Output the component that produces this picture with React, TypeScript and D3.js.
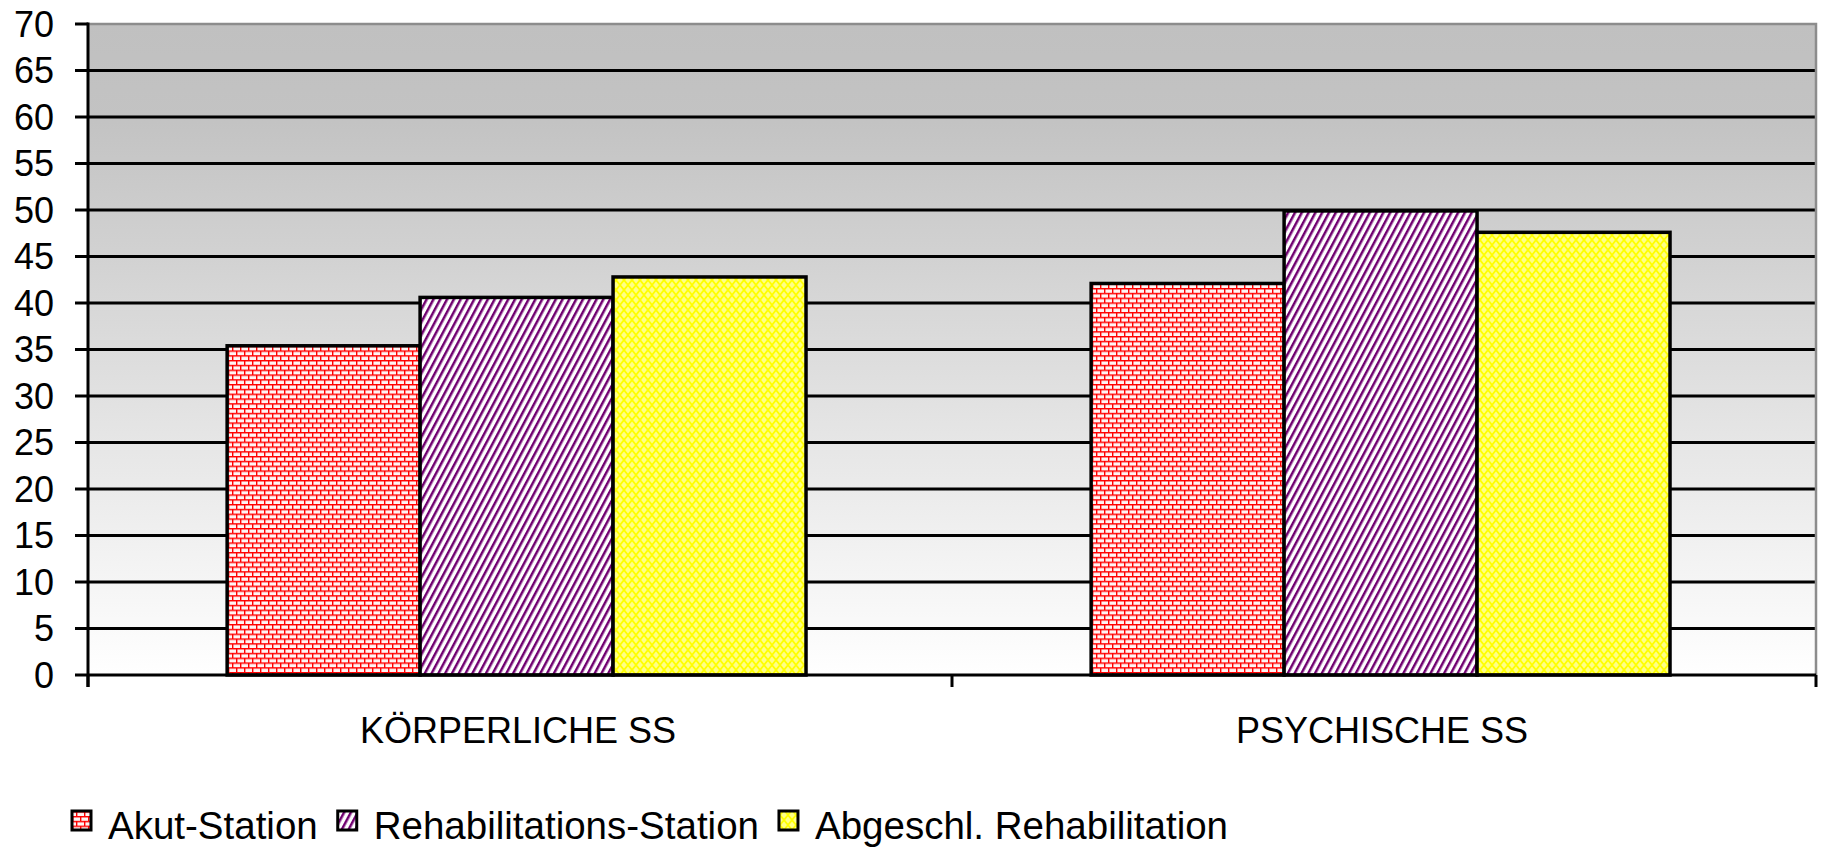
import React, { useEffect, useRef } from "react";
import * as d3 from "d3";

// chart data
const categories = ["KÖRPERLICHE SS", "PSYCHISCHE SS"];
const seriesNames = ["Akut-Station", "Rehabilitations-Station", "Abgeschl. Rehabilitation"];
const akutValues = [35.4, 42.1];
const rehaValues = [40.6, 49.9];
const abgeschlValues = [42.8, 47.6];
const yTicks = [0, 5, 10, 15, 20, 25, 30, 35, 40, 45, 50, 55, 60, 65, 70];

const seriesFill: Record<string, string> = {
  "Akut-Station": "url(#brick)",
  "Rehabilitations-Station": "url(#stripes)",
  "Abgeschl. Rehabilitation": "url(#trellis)",
};

const App = () => {
  const ref = useRef<SVGSVGElement>(null);

  useEffect(() => {
    const width = 1823;
    const height = 848;
    const left = 88;
    const right = 1816;
    const top = 24;
    const bottom = 675;
    const font = "'Liberation Sans', Arial, sans-serif";

    const svg = d3.select(ref.current);
    svg.selectAll("*").remove();

    const defs = svg.append("defs");

    // plot background: gray at the top fading to white
    const grad = defs.append("linearGradient")
      .attr("id", "bgGrad")
      .attr("x1", 0).attr("y1", 0).attr("x2", 0).attr("y2", 1);
    [[0, "#c0c0c0"], [0.15, "#c3c3c3"], [0.5, "#dcdcdc"], [1, "#ffffff"]].forEach(([o, c]) => {
      grad.append("stop").attr("offset", o as number).attr("stop-color", c as string);
    });

    // red bricks
    const brick = defs.append("pattern")
      .attr("id", "brick")
      .attr("patternUnits", "userSpaceOnUse")
      .attr("width", 8).attr("height", 9.6);
    brick.append("rect").attr("width", 8).attr("height", 9.6).attr("fill", "#fff4f4");
    brick.append("path")
      .attr("d", "M0,0.7H8M0,5.5H8M0.7,0.7V5.5M4.7,5.5V9.6")
      .attr("stroke", "#ff0000")
      .attr("stroke-width", 1.4)
      .attr("fill", "none");

    // purple upward diagonal
    const stripes = defs.append("pattern")
      .attr("id", "stripes")
      .attr("patternUnits", "userSpaceOnUse")
      .attr("width", 6).attr("height", 10)
      .attr("patternTransform", "rotate(28)");
    stripes.append("rect").attr("width", 6).attr("height", 10).attr("fill", "#ffffff");
    stripes.append("rect").attr("width", 2.5).attr("height", 10).attr("fill", "#700070");

    // yellow lattice
    const trellis = defs.append("pattern")
      .attr("id", "trellis")
      .attr("patternUnits", "userSpaceOnUse")
      .attr("width", 8).attr("height", 10);
    trellis.append("rect").attr("width", 8).attr("height", 10).attr("fill", "#ffff88");
    trellis.append("path")
      .attr("d", "M0,0L4,5L0,10M8,0L4,5L8,10")
      .attr("stroke", "#ffff00")
      .attr("stroke-width", 1.8)
      .attr("fill", "none");

    const y = d3.scaleLinear().domain([0, 70]).range([bottom, top]);
    const x0 = d3.scaleBand<string>()
      .domain(categories)
      .range([left, right])
      .paddingInner(0.33)
      .paddingOuter(0.165)
      .align(0.488);
    const x1 = d3.scaleBand<string>()
      .domain(seriesNames)
      .range([0, x0.bandwidth()]);

    svg.append("rect")
      .attr("x", left).attr("y", top)
      .attr("width", right - left).attr("height", bottom - top)
      .attr("fill", "url(#bgGrad)");

    // gridlines
    svg.append("g")
      .selectAll("line")
      .data(yTicks.filter(t => t > 0 && t < 70))
      .join("line")
      .attr("x1", left).attr("x2", right)
      .attr("y1", d => y(d)).attr("y2", d => y(d))
      .attr("stroke", "#000")
      .attr("stroke-width", 3);

    // plot border top / right
    svg.append("path")
      .attr("d", `M${left},${y(70)}H${right}V${bottom}`)
      .attr("stroke", "#8c8c8c")
      .attr("stroke-width", 2.5)
      .attr("fill", "none");

    const values = [akutValues, rehaValues, abgeschlValues];
    const barData = categories.flatMap((c, ci) =>
      seriesNames.map((s, si) => ({ cat: c, series: s, value: values[si][ci] }))
    );

    svg.append("g")
      .selectAll("rect")
      .data(barData)
      .join("rect")
      .attr("x", d => (x0(d.cat) || 0) + (x1(d.series) || 0))
      .attr("y", d => y(d.value))
      .attr("width", x1.bandwidth())
      .attr("height", d => y(0) - y(d.value))
      .attr("fill", d => seriesFill[d.series])
      .attr("stroke", "#000")
      .attr("stroke-width", 3.5);

    // y axis
    const yAxis = svg.append("g");
    yAxis.append("line")
      .attr("x1", left).attr("x2", left)
      .attr("y1", y(70) - 1.5).attr("y2", bottom + 12)
      .attr("stroke", "#000").attr("stroke-width", 3);
    yAxis.selectAll("line.tick")
      .data(yTicks)
      .join("line")
      .attr("class", "tick")
      .attr("x1", left - 13).attr("x2", left)
      .attr("y1", d => y(d)).attr("y2", d => y(d))
      .attr("stroke", "#000").attr("stroke-width", 3);
    yAxis.selectAll("text")
      .data(yTicks)
      .join("text")
      .attr("x", 54)
      .attr("y", d => y(d))
      .attr("dy", "0.36em")
      .attr("text-anchor", "end")
      .attr("font-family", font)
      .attr("font-size", 36)
      .attr("fill", "#000")
      .text(d => d);

    // x axis
    const xAxis = svg.append("g");
    xAxis.append("line")
      .attr("x1", left).attr("x2", right)
      .attr("y1", bottom).attr("y2", bottom)
      .attr("stroke", "#000").attr("stroke-width", 3);
    const step = (right - left) / categories.length;
    const boundaries = [left, left + step, right];
    xAxis.selectAll("line.tick")
      .data(boundaries)
      .join("line")
      .attr("class", "tick")
      .attr("x1", d => d).attr("x2", d => d)
      .attr("y1", bottom).attr("y2", bottom + 12)
      .attr("stroke", "#000").attr("stroke-width", 3);
    xAxis.selectAll("text")
      .data(categories)
      .join("text")
      .attr("x", (d, i) => left + step * (i + 0.5) - 2)
      .attr("y", 743)
      .attr("text-anchor", "middle")
      .attr("font-family", font)
      .attr("font-size", 36)
      .attr("fill", "#000")
      .text(d => d);

    // legend
    const legend = svg.append("g");
    let lx = 72;
    seriesNames.forEach(s => {
      legend.append("rect")
        .attr("x", lx).attr("y", 811)
        .attr("width", 19).attr("height", 19)
        .attr("fill", seriesFill[s])
        .attr("stroke", "#000")
        .attr("stroke-width", 3);
      const t = legend.append("text")
        .attr("x", lx + 36)
        .attr("y", 839)
        .attr("font-family", font)
        .attr("font-size", 38.5)
        .attr("fill", "#000")
        .text(s);
      const w = (t.node() as SVGTextElement).getComputedTextLength();
      lx = lx + 36 + w + 20;
    });

    svg.attr("width", width).attr("height", height);
  }, []);

  return (
    <svg
      ref={ref}
      width={1823}
      height={848}
      style={{ position: "absolute", left: 0, top: 0, background: "#ffffff" }}
    />
  );
};

export default App;
